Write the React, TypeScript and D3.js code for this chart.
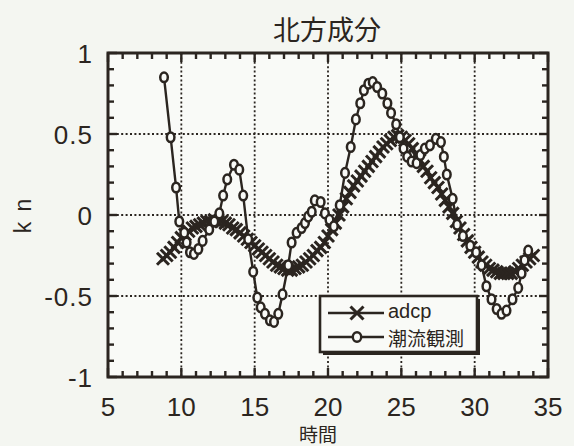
import React from "react";
import * as d3 from "d3";

// adcp: sampled every 15 min starting at 8.75 h
const adcpStart = 8.75;
const adcpStep = 0.25;
const adcpValues = [
  -0.27, -0.25, -0.23, -0.2, -0.17, -0.14, -0.12, -0.1, -0.08, -0.07,
  -0.06, -0.05, -0.04, -0.04, -0.03, -0.04, -0.04, -0.05, -0.06, -0.08,
  -0.09, -0.11, -0.13, -0.15, -0.17, -0.19, -0.21, -0.23, -0.25, -0.27,
  -0.29, -0.31, -0.32, -0.33, -0.34, -0.34, -0.33, -0.32, -0.31, -0.29,
  -0.27, -0.25, -0.22, -0.2, -0.17, -0.13, -0.09, -0.05, 0.0, 0.05,
  0.1, 0.14, 0.18, 0.21, 0.24, 0.27, 0.3, 0.33, 0.36, 0.39,
  0.42, 0.44, 0.46, 0.48, 0.49, 0.48, 0.46, 0.44, 0.41, 0.37,
  0.34, 0.3, 0.27, 0.23, 0.2, 0.17, 0.13, 0.09, 0.05, 0.01,
  -0.04, -0.08, -0.12, -0.16, -0.2, -0.23, -0.26, -0.29, -0.31, -0.33,
  -0.34, -0.35, -0.36, -0.36, -0.36, -0.36, -0.35, -0.33, -0.31, -0.29,
  -0.27, -0.25,
];

// 潮流観測 (tidal current observation), irregular times
const obsTimes = [
  8.82, 9.27, 9.64, 9.86, 10.2, 10.36, 10.59, 10.86, 11.16, 11.45,
  11.9, 12.25, 12.59, 12.85, 13.13, 13.59, 13.95, 14.22, 14.56, 14.9,
  15.18, 15.41, 15.7, 16.04, 16.32, 16.61, 16.9, 17.29, 17.52, 17.86,
  18.2, 18.43, 18.65, 18.89, 19.1, 19.5, 19.79, 20.1, 20.4, 20.8,
  21.16, 21.55, 21.9, 22.2, 22.45, 22.75, 23.05, 23.35, 23.7, 24.05,
  24.3, 24.65, 24.9, 25.15, 25.4, 25.7, 26.04, 26.3, 26.6, 26.95,
  27.35, 27.7, 27.9, 28.1, 28.5, 28.8, 29.2, 29.7, 30.1, 30.47,
  30.8, 31.15, 31.5, 31.83, 32.17, 32.58, 32.97, 33.2, 33.4, 33.65,
];
const obsValues = [
  0.85, 0.48, 0.17, -0.04, -0.11, -0.17, -0.23, -0.24, -0.21, -0.16,
  -0.09, -0.04, 0.01, 0.12, 0.22, 0.31, 0.28, 0.12, -0.15, -0.35,
  -0.51, -0.57, -0.61, -0.65, -0.66, -0.61, -0.49, -0.31, -0.17, -0.11,
  -0.08, -0.05, -0.01, 0.02, 0.09, 0.08, 0.01, -0.03, -0.07, 0.06,
  0.26, 0.42, 0.59, 0.69, 0.77, 0.81, 0.82, 0.79, 0.75, 0.69,
  0.63, 0.56, 0.48, 0.41, 0.36, 0.33, 0.32, 0.37, 0.41, 0.43,
  0.47, 0.45, 0.36, 0.25, 0.1, -0.06, -0.13, -0.19, -0.23, -0.31,
  -0.44, -0.52, -0.58, -0.61, -0.59, -0.52, -0.45, -0.36, -0.28, -0.22,
];

const xTicks = [5, 10, 15, 20, 25, 30, 35];
const yTicks = [-1, -0.5, 0, 0.5, 1];
const yTickLabels = ["-1", "-0.5", "0", "0.5", "1"];
const seriesNames = ["adcp", "潮流観測"];

const title = "北方成分";
const xTitle = "時間";
const yTitle = "k n";

const W = 574;
const H = 446;
const ink = "#2b2520";
const paper = "#f9faf7";
const font = "'Liberation Sans', Arial, sans-serif";
const cjk = "'Noto Sans CJK JP', sans-serif";

function XMark({ x, y, s }: { x: number; y: number; s: number }) {
  return (
    <path
      d={`M${x - s},${y - s}L${x + s},${y + s}M${x - s},${y + s}L${x + s},${y - s}`}
      stroke={ink}
      strokeWidth={3}
    />
  );
}

export default function App() {
  const left = 108, right = 548, top = 53, bottom = 377;
  const x = d3.scaleLinear().domain([5, 35]).range([left, right]);
  const y = d3.scaleLinear().domain([-1, 1]).range([bottom, top]);

  const adcp = adcpValues.map((v, i) => [adcpStart + i * adcpStep, v] as [number, number]);
  const obs = obsTimes.map((t, i) => [t, obsValues[i]] as [number, number]);

  const line = d3
    .line<[number, number]>()
    .x((d) => x(d[0]))
    .y((d) => y(d[1]));

  const xMinor = d3.range(5, 35.01, 1);
  const yMinor = d3.range(-1, 1.001, 0.1);

  const lx = 320, ly = 296, lw = 157, lh = 56;

  return (
    <svg
      width={W}
      height={H}
      style={{ position: "absolute", left: 0, top: 0, background: "#f4f6f1" }}
    >
      <rect x={left} y={top} width={right - left} height={bottom - top} fill={paper} />

      {/* dotted grid */}
      {xTicks.slice(1, -1).map((t) => (
        <line key={"gx" + t} x1={x(t)} x2={x(t)} y1={top} y2={bottom}
          stroke={ink} strokeWidth={1.8} strokeDasharray="2,2.4" />
      ))}
      {yTicks.slice(1, -1).map((t) => (
        <line key={"gy" + t} x1={left} x2={right} y1={y(t)} y2={y(t)}
          stroke={ink} strokeWidth={1.8} strokeDasharray="2,2.4" />
      ))}

      {/* ticks, inward on all sides */}
      {xMinor.map((t) => {
        const len = t % 5 === 0 ? 9 : 6;
        return (
          <g key={"tx" + t}>
            <line x1={x(t)} x2={x(t)} y1={bottom} y2={bottom - len} stroke={ink} strokeWidth={2.4} />
            <line x1={x(t)} x2={x(t)} y1={top} y2={top + len} stroke={ink} strokeWidth={2.4} />
          </g>
        );
      })}
      {yMinor.map((t, i) => {
        const len = i % 5 === 0 ? 9 : 6;
        return (
          <g key={"ty" + i}>
            <line x1={left} x2={left + len} y1={y(t)} y2={y(t)} stroke={ink} strokeWidth={2.4} />
            <line x1={right} x2={right - len} y1={y(t)} y2={y(t)} stroke={ink} strokeWidth={2.4} />
          </g>
        );
      })}

      {/* adcp series */}
      <path d={line(adcp) || ""} fill="none" stroke={ink} strokeWidth={2.4} />
      {adcp.map((d, i) => (
        <XMark key={"a" + i} x={x(d[0])} y={y(d[1])} s={6} />
      ))}

      {/* observation series */}
      <path d={line(obs) || ""} fill="none" stroke={ink} strokeWidth={2.4} />
      {obs.map((d, i) => (
        <ellipse key={"o" + i} cx={x(d[0])} cy={y(d[1])} rx={3.8} ry={4.8}
          fill={paper} stroke={ink} strokeWidth={2.5} />
      ))}

      {/* frame */}
      <rect x={left} y={top} width={right - left} height={bottom - top}
        fill="none" stroke={ink} strokeWidth={3} />

      {/* tick labels */}
      {xTicks.map((t) => (
        <text key={"lx" + t} x={x(t)} y={416} textAnchor="middle"
          fontFamily={font} fontSize={26} fill={ink}>{t}</text>
      ))}
      {yTicks.map((t, i) => (
        <text key={"ly" + t} x={93} y={y(t) + 10} textAnchor="end"
          fontFamily={font} fontSize={26} letterSpacing={1} fill={ink}>{yTickLabels[i]}</text>
      ))}

      {/* titles */}
      <text x={327} y={40} textAnchor="middle" fontFamily={cjk} fontSize={27} fill={ink}>{title}</text>
      <text x={318} y={442} textAnchor="middle" fontFamily={cjk} fontSize={19} fill={ink}>{xTitle}</text>
      <text transform={`translate(31,${y(0)}) rotate(-90)`} textAnchor="middle"
        fontFamily={font} fontSize={23} letterSpacing={2} fill={ink}>{yTitle}</text>

      {/* legend */}
      <rect x={lx + 3} y={ly + 3} width={lw} height={lh} fill={ink} />
      <rect x={lx} y={ly} width={lw} height={lh} fill={paper} stroke={ink} strokeWidth={2.6} />
      <line x1={lx + 8} x2={lx + 64} y1={ly + 17} y2={ly + 17} stroke={ink} strokeWidth={2.4} />
      <XMark x={lx + 37} y={ly + 17} s={6.5} />
      <text x={lx + 68} y={ly + 22} fontFamily={font} fontSize={20} fill={ink}>{seriesNames[0]}</text>
      <line x1={lx + 8} x2={lx + 64} y1={ly + 41} y2={ly + 41} stroke={ink} strokeWidth={2.4} />
      <ellipse cx={lx + 37} cy={ly + 41} rx={4.2} ry={4.8} fill={paper} stroke={ink} strokeWidth={2.4} />
      <text x={lx + 68} y={ly + 50} fontFamily={cjk} fontSize={19} fill={ink}>{seriesNames[1]}</text>
    </svg>
  );
}
